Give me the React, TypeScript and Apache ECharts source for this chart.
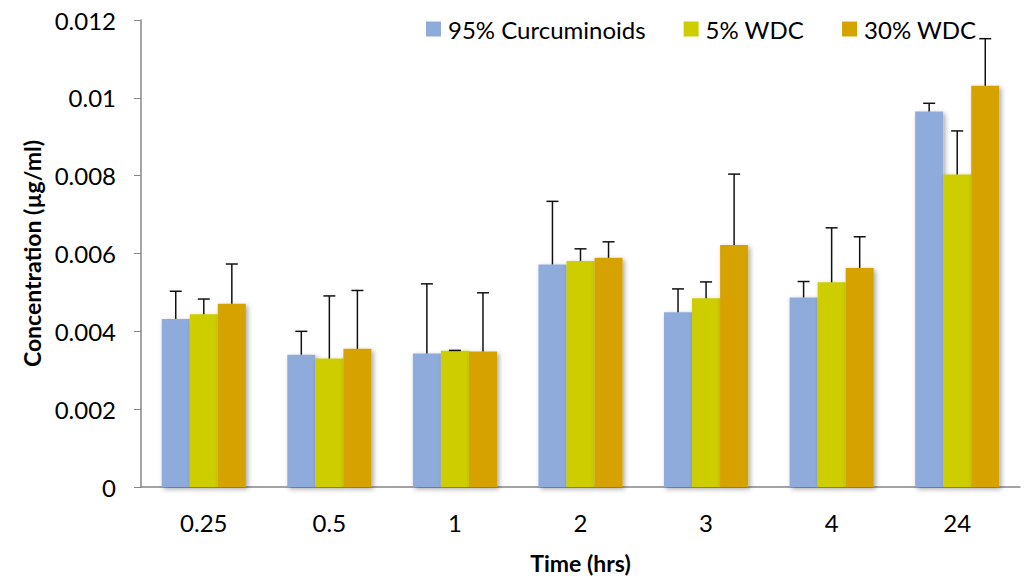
import React, { useEffect, useRef } from "react";
import * as echarts from "echarts";

const categories = ["0.25", "0.5", "1", "2", "3", "4", "24"];
const seriesNames = ["95% Curcuminoids", "5% WDC", "30% WDC"];
const curcuminoids = [0.00432, 0.0034, 0.00343, 0.00572, 0.00449, 0.00487, 0.00965];
const wdc5 = [0.00444, 0.0033, 0.0035, 0.00581, 0.00485, 0.00526, 0.00803];
const wdc30 = [0.00471, 0.00355, 0.00348, 0.00589, 0.00622, 0.00563, 0.01031];
const errCurcuminoids = [0.00071, 0.0006, 0.00179, 0.00162, 0.0006, 0.00041, 0.00021];
const errWdc5 = [0.00039, 0.00161, 0.00001, 0.00031, 0.00042, 0.0014, 0.00112];
const errWdc30 = [0.00102, 0.0015, 0.00151, 0.00041, 0.00182, 0.0008, 0.00121];
const colors = ["#8FABDC", "#CDCD00", "#D6A200"];

const FONT = "Lato, 'Open Sans', sans-serif";
const GAP = 0.33;

export default function App() {
  const ref = useRef<HTMLDivElement>(null);
  useEffect(() => {
    if (!ref.current) return;
    const chart = echarts.init(ref.current, null, { renderer: "svg" });
    const values = [curcuminoids, wdc5, wdc30];
    const errs = [errCurcuminoids, errWdc5, errWdc30];
    const barSeries = values.map((v, i) => ({
      name: seriesNames[i],
      type: "bar",
      data: v,
      barGap: "0%",
      barCategoryGap: GAP * 100 + "%",
      itemStyle: {
        color: colors[i],
        shadowBlur: 5,
        shadowColor: "rgba(0,0,0,0.35)",
        shadowOffsetX: 2,
        shadowOffsetY: 2,
      },
      z: 2,
    }));
    const errSeries = values.map((v, i) => ({
      type: "custom",
      name: "err" + i,
      data: v.map((val, j) => [j, val, val + errs[i][j]]),
      z: 5,
      renderItem: (params: any, api: any) => {
        const idx = api.value(0);
        const base = api.coord([idx, api.value(1)]);
        const top = api.coord([idx, api.value(2)]);
        const band = api.size([1, 0])[0];
        const bw = (band * (1 - GAP)) / 3;
        const x = base[0] + (i - 1) * bw;
        const cap = 6;
        return {
          type: "group",
          children: [
            { type: "line", shape: { x1: x, y1: base[1], x2: x, y2: top[1] }, style: { stroke: "#111", lineWidth: 1.5 } },
            { type: "line", shape: { x1: x - cap, y1: top[1], x2: x + cap, y2: top[1] }, style: { stroke: "#111", lineWidth: 1.5 } },
          ],
        };
      },
    }));
    chart.setOption({
      animation: false,
      backgroundColor: "#fff",
      textStyle: { fontFamily: FONT },
      grid: { left: 141, right: 7, top: 20, bottom: 90 },
      legend: {
        data: seriesNames,
        left: 421,
        top: 12,
        itemWidth: 15,
        itemHeight: 15,
        itemGap: 38,
        icon: "rect",
        textStyle: { fontSize: 24, color: "#000", fontFamily: FONT, padding: [0, 0, 0, 2] },
      },
      xAxis: {
        type: "category",
        data: categories,
        name: "Time (hrs)",
        nameLocation: "middle",
        nameGap: 64,
        nameTextStyle: { fontSize: 23, fontWeight: "bold", color: "#000", fontFamily: FONT },
        axisLine: { lineStyle: { color: "#868686", width: 1.5 } },
        axisTick: { show: false },
        axisLabel: { fontSize: 24, color: "#000", margin: 23, fontFamily: FONT },
      },
      yAxis: {
        type: "value",
        min: 0,
        max: 0.012,
        interval: 0.002,
        name: "Concentration (µg/ml)",
        nameLocation: "middle",
        nameGap: 98,
        nameTextStyle: { fontSize: 23, fontWeight: "bold", color: "#000", fontFamily: FONT },
        axisLine: { show: true, lineStyle: { color: "#868686", width: 1.5 } },
        axisTick: { show: true, inside: false, length: 7, lineStyle: { color: "#868686" } },
        splitLine: { show: false },
        axisLabel: { fontSize: 24, color: "#000", margin: 25, fontFamily: FONT },
      },
      series: [...barSeries, ...errSeries],
    });
    return () => chart.dispose();
  }, []);
  return <div ref={ref} style={{ position: "fixed", left: 0, top: 0, width: 1027, height: 579 }} />;
}
